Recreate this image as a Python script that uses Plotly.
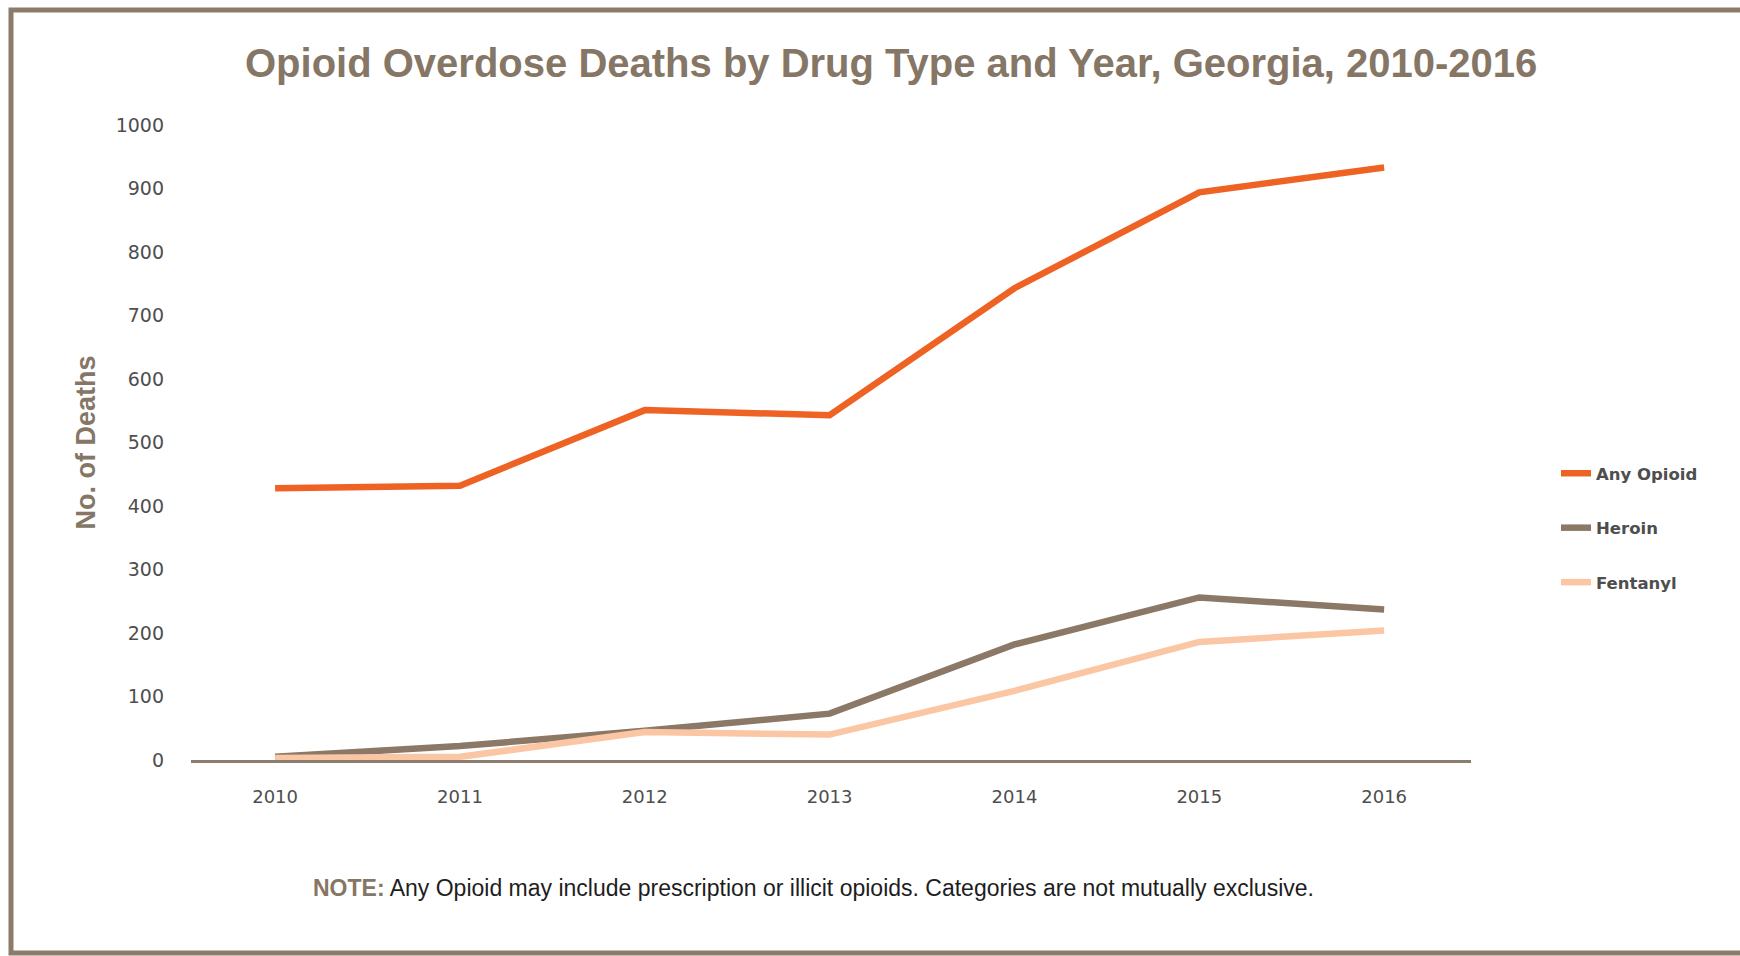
import plotly.graph_objects as go

# Georgia opioid overdose deaths by drug type, 2010-2016
years = ["2010", "2011", "2012", "2013", "2014", "2015", "2016"]
any_opioid = [428, 432, 551, 543, 743, 894, 933]
heroin = [5, 22, 46, 73, 182, 256, 237]
fentanyl = [3, 5, 44, 40, 109, 186, 204]

series_names = ["Any Opioid", "Heroin", "Fentanyl"]
series_colors = ["#EE6324", "#8B7866", "#FAC6A3"]

y_ticks = [0, 100, 200, 300, 400, 500, 600, 700, 800, 900, 1000]

BROWN = "#857666"
TICK_GRAY = "#4E4E4E"

W, H = 1740, 956
L, R, T, B = 191, 269, 125, 196
plot_w = W - L - R
plot_h = H - T - B


def px_x(px):
    return (px - L) / plot_w


def px_y(py):
    return (H - B - py) / plot_h


fig = go.Figure()
x_idx = list(range(len(years)))
for name, vals, col in zip(series_names, [any_opioid, heroin, fentanyl], series_colors):
    fig.add_trace(go.Scatter(
        x=x_idx, y=vals, name=f"<b>{name}</b>", mode="lines",
        line=dict(color=col, width=6.5),
        legendgroup=name,
    ))

fig.update_layout(
    width=W, height=H,
    margin=dict(l=L, r=R, t=T, b=B),
    paper_bgcolor="white", plot_bgcolor="white",
    showlegend=True,
    legend=dict(
        x=px_x(1556), xanchor="left",
        y=px_y(456), yanchor="top",
        font=dict(family="DejaVu Sans", size=16.5, color=TICK_GRAY),
        tracegroupgap=30,
        bgcolor="rgba(0,0,0,0)",
    ),
    title=dict(
        text="<b>Opioid Overdose Deaths by Drug Type and Year, Georgia, 2010-2016</b>",
        x=0.547, xanchor="center", xref="paper",
        y=1 - 63 / H, yanchor="middle", yref="container",
        font=dict(family="Liberation Sans", size=40, color=BROWN),
    ),
    xaxis=dict(
        range=[-0.455, 6.47],
        tickmode="array", tickvals=x_idx, ticktext=years,
        showgrid=False, zeroline=False,
        showline=True, linecolor="#8B7D6E", linewidth=3,
        ticks="", ticklabelstandoff=18,
        tickfont=dict(family="DejaVu Sans", size=18, color=TICK_GRAY),
    ),
    yaxis=dict(
        range=[0, 1000],
        tickmode="array", tickvals=y_ticks,
        showgrid=False, zeroline=False, showline=False,
        ticks="", ticklabelstandoff=26,
        tickfont=dict(family="DejaVu Sans", size=19, color=TICK_GRAY),
        title=dict(
            text="<b>No. of Deaths</b>", standoff=12,
            font=dict(family="Liberation Sans", size=27, color=BROWN),
        ),
    ),
)

# outer frame
fig.add_shape(
    type="rect", xref="paper", yref="paper",
    x0=px_x(11), x1=px_x(1760), y0=px_y(953), y1=px_y(10),
    line=dict(color="#8B7B6A", width=5), fillcolor="rgba(0,0,0,0)", layer="below",
)

# footnote
fig.add_annotation(
    xref="paper", yref="paper",
    x=px_x(813), y=px_y(888), xanchor="center", yanchor="middle",
    showarrow=False,
    text=f"<b><span style='color:{BROWN}'>NOTE:</span></b> Any Opioid may include prescription or illicit opioids. Categories are not mutually exclusive.",
    font=dict(family="Liberation Sans", size=23, color="#1E1E1E"),
)

fig.write_html("out.html")
